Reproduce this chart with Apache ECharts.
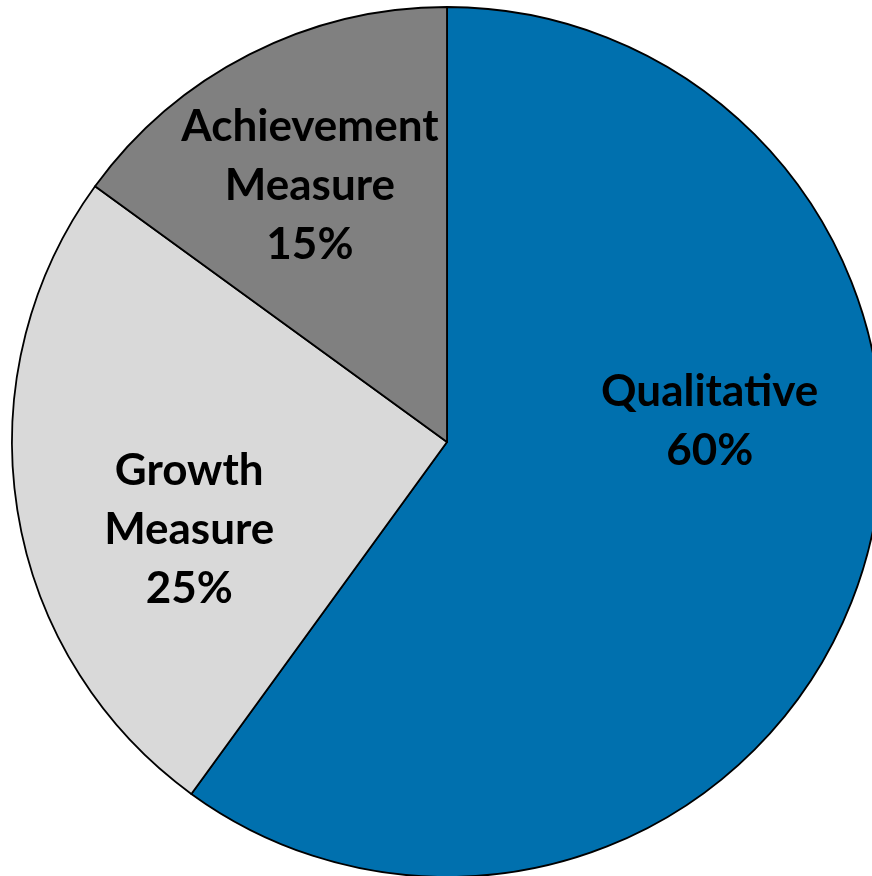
<!DOCTYPE html>
<html>
<head>
<meta charset="utf-8">
<script src="https://cdn.jsdelivr.net/npm/echarts@6/dist/echarts.min.js"></script>
<style>
  html, body { margin: 0; padding: 0; background: #ffffff; }
  #chart { width: 872px; height: 876px; }
</style>
</head>
<body>
<div id="chart"></div>
<script>
// Weighting of the evaluation components (percent)
const categories = ['Qualitative', 'Growth\nMeasure', 'Achievement\nMeasure'];
const shares = [60, 25, 15];
const sliceColors = ['#0070AE', '#D9D9D9', '#808080'];
// Nudges moving each label from the slice midpoint to its spot
const labelOffsets = [[53, -89], [-40, 53], [-37, -60]];

const chart = echarts.init(document.getElementById('chart'));
chart.setOption({
  animation: false,
  series: [{
    type: 'pie',
    center: [447, 442],
    radius: [0, 435],
    startAngle: 90,
    clockwise: true,
    avoidLabelOverlap: false,
    silent: true,
    label: {
      show: true,
      position: 'inside',
      formatter: p => p.name + '\n' + p.value + '%',
      color: '#000000',
      fontFamily: 'Lato',
      fontWeight: 'bold',
      fontSize: 44,
      lineHeight: 59,
      align: 'center'
    },
    labelLine: { show: false },
    itemStyle: { borderColor: '#000000', borderWidth: 1.8 },
    data: categories.map((name, i) => ({
      name: name,
      value: shares[i],
      itemStyle: { color: sliceColors[i] },
      label: { offset: labelOffsets[i] }
    }))
  }]
});
</script>
</body>
</html>
